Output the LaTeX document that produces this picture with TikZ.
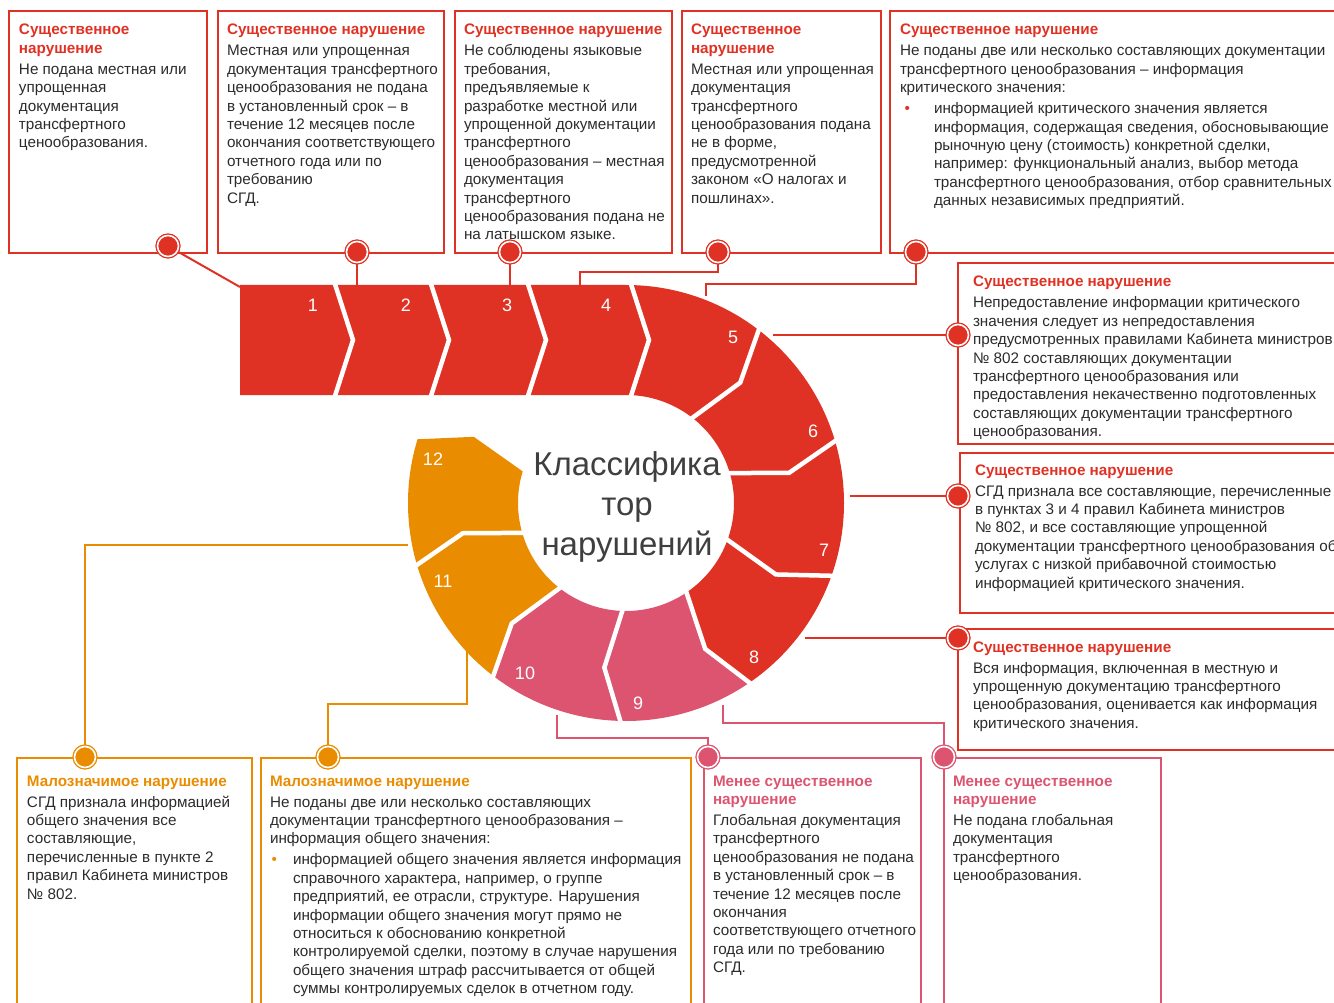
\documentclass[tikz,border=0pt]{standalone}
\usepackage{fontspec}
\setmainfont{Liberation Sans}
\usetikzlibrary{calc}
\definecolor{cred}{HTML}{E03224}
\definecolor{cpink}{HTML}{DC5470}
\definecolor{corange}{HTML}{EA8C00}
\definecolor{ctext}{HTML}{2B2B2B}
\definecolor{ccenter}{HTML}{3F3F3F}
\newcommand\ttl[2]{\leavevmode{\bfseries\color{#1}#2}\\[2.6pt]}
\newcommand\bul[1]{\par\vspace{2.6pt}\hangindent=#1\hangafter=0\noindent}
\tikzset{
  txt/.style={anchor=base west, inner sep=0, outer sep=0, text=ctext, font=\fontsize{15.25}{18.4}\selectfont},
  frame/.style={line width=2pt},
  conn/.style={line width=2pt},
  jdot/.style={circle, minimum size=21pt, inner sep=0, line width=1.2pt, double=white, double distance=1.6pt, draw=#1, fill=#1},
  num/.style={text=white, font=\fontsize{18}{18}\selectfont, inner sep=0},
  cut/.style={white, line width=4.5pt, line join=miter}
}
\begin{document}
\begin{tikzpicture}[x=1pt,y=-1pt]
\useasboundingbox (0,0) rectangle (1334,1003);
\clip (0,0) rectangle (1334,1003);
% boxes
\draw[frame,cred] (9,11) rectangle (207,253);
\draw[frame,cred] (218,11) rectangle (444,253);
\draw[frame,cred] (455,11) rectangle (672,253);
\draw[frame,cred] (682,11) rectangle (881,253);
\draw[frame,cred] (890,11) rectangle (1345,253);
\draw[frame,cred] (958,263) rectangle (1345,444);
\draw[frame,cred] (960,453) rectangle (1345,613);
\draw[frame,cred] (958,629) rectangle (1345,750);
\draw[frame,corange] (17,758) rectangle (252,1010);
\draw[frame,corange] (261,758) rectangle (691,1010);
\draw[frame,cpink] (704,758) rectangle (921,1010);
\draw[frame,cpink] (944,758) rectangle (1161,1010);
% dots
\node[jdot=cred] (c1) at (168,246) {};
\node[jdot=cred] (c2) at (357,252) {};
\node[jdot=cred] (c3) at (510,252) {};
\node[jdot=cred] (c4) at (718,252) {};
\node[jdot=cred] (c5) at (916,252) {};
\node[jdot=cred] (c6) at (958,335) {};
\node[jdot=cred] (c7) at (958,496) {};
\node[jdot=cred] (c8) at (958,638) {};
\node[jdot=corange] (c9) at (85,757) {};
\node[jdot=corange] (c10) at (328,757) {};
\node[jdot=cpink] (c11) at (708,757) {};
\node[jdot=cpink] (c12) at (944,757) {};
% connector ends
\coordinate (k1) at (240,287);
\coordinate (k2) at (357,287);
\coordinate (k3) at (510,287);
\coordinate (k4) at (580,287);
\coordinate (k5) at (706,296);
\coordinate (k6) at (773,335);
\coordinate (k7) at (850,496);
\coordinate (k8) at (805,638);
\coordinate (k9) at (408,545);
\coordinate (k10) at (467,650);
\coordinate (k11) at (557,715);
\coordinate (k12) at (723,705);
\draw[conn,cred] (c1) -- (k1);
\draw[conn,cred] (c2) -- (k2);
\draw[conn,cred] (c3) -- (k3);
\draw[conn,cred] (c4) |- ($(k4)+(0,-15)$) -- (k4);
\draw[conn,cred] (c5) |- ($(k5)+(0,-12)$) -- (k5);
\draw[conn,cred] (k6) -- (c6);
\draw[conn,cred] (k7) -- (c7);
\draw[conn,cred] (k8) -- (c8);
\draw[conn,corange] (k9) -| (c9);
\draw[conn,corange] (k10) |- ($(c10)+(0,-53)$) -- (c10);
\draw[conn,cpink] (k11) |- ($(c11)+(0,-19)$) -- (c11);
\draw[conn,cpink] (k12) |- ($(c12)+(0,-34)$) -- (c12);
% redraw dots above connectors
\foreach \n/\c in {c1/cred,c2/cred,c3/cred,c4/cred,c5/cred,c6/cred,c7/cred,c8/cred,c9/corange,c10/corange,c11/cpink,c12/cpink}
  \node[jdot=\c] at (\n) {};
% spiral
\coordinate (C) at (626,503);
\fill[cred] (240,285) -- (626,285) arc[start angle=90, end angle=-55, radius=218pt]
  -- ($(C)+(-61.5:166pt)$) -- ($(C)+(-55:108pt)$) arc[start angle=-55, end angle=90, radius=108pt]
  -- (240,395) -- cycle;
\fill[cpink] ($(C)+(-55:218pt)$) arc[start angle=-55, end angle=-127, radius=218pt]
  -- ($(C)+(-133.5:166pt)$) -- ($(C)+(-127:108pt)$) arc[start angle=-127, end angle=-55, radius=108pt]
  -- ($(C)+(-61.5:166pt)$) -- cycle;
\fill[corange] ($(C)+(-127:218pt)$) arc[start angle=-127, end angle=-197, radius=218pt]
  -- ($(C)+(-203.5:166pt)$) -- ($(C)+(-197:108pt)$) arc[start angle=-197, end angle=-127, radius=108pt]
  -- ($(C)+(-133.5:166pt)$) -- cycle;
\foreach \a in {53,17,-19,-55,-91,-127,-163}
  \draw[cut] ($(C)+(\a:224pt)$) -- ($(C)+(\a-6.5:166pt)$) -- ($(C)+(\a:102pt)$);
\foreach \t in {334,430,527,630}
  \draw[cut] (\t,281) -- (\t+19,340) -- (\t,399);
% numbers
\node[num] (n1) at (313,305) {1};
\node[num] (n2) at (406,305) {2};
\node[num] (n3) at (507,305) {3};
\node[num] (n4) at (606,305) {4};
\node[num] (n5) at (733,337) {5};
\node[num] (n6) at (813,431) {6};
\node[num] (n7) at (824,550) {7};
\node[num] (n8) at (754,657) {8};
\node[num] (n9) at (638,703) {9};
\node[num] (n10) at (525,673) {10};
\node[num] (n11) at (443,581) {11};
\node[num] (n12) at (433,459) {12};
\node[font=\fontsize{33}{40}\selectfont, text=ccenter, align=center, inner sep=0] (ctr) at (627,507) {Классифика\\тор\\нарушений};
% texts
\node[txt] (t1) at (19,35) {\begin{minipage}[t]{600pt}
\ttl{cred}{Существенное\\нарушение}Не подана местная или\\упрощенная\\документация\\трансфертного\\ценообразования.\end{minipage}};
\node[txt] (t2) at (227,35) {\begin{minipage}[t]{600pt}
\ttl{cred}{Существенное нарушение}Местная или упрощенная\\документация трансфертного\\ценообразования не подана\\в установленный срок – в\\течение 12 месяцев после\\окончания соответствующего\\отчетного года или по\\требованию\\СГД.\end{minipage}};
\node[txt] (t3) at (464,35) {\begin{minipage}[t]{600pt}
\ttl{cred}{Существенное нарушение}Не соблюдены языковые\\требования,\\предъявляемые к\\разработке местной или\\упрощенной документации\\трансфертного\\ценообразования – местная\\документация\\трансфертного\\ценообразования подана не\\на латышском языке.\end{minipage}};
\node[txt] (t4) at (691,35) {\begin{minipage}[t]{600pt}
\ttl{cred}{Существенное\\нарушение}Местная или упрощенная\\документация\\трансфертного\\ценообразования подана\\не в форме,\\предусмотренной\\законом «О налогах и\\пошлинах».\end{minipage}};
\node[txt] (t5) at (900,35) {\begin{minipage}[t]{700pt}
\ttl{cred}{Существенное нарушение}Не поданы две или несколько составляющих документации\\трансфертного ценообразования – информация\\критического значения:
\bul{34pt}\llap{\textcolor{cred}{\textbullet}\hspace{24pt}}информацией критического значения является\\информация, содержащая сведения, обосновывающие\\рыночную цену (стоимость) конкретной сделки,\\например: функциональный анализ, выбор метода\\трансфертного ценообразования, отбор сравнительных\\данных независимых предприятий.\end{minipage}};
\node[txt] (t6) at (973,287) {\begin{minipage}[t]{600pt}
\ttl{cred}{Существенное нарушение}Непредоставление информации критического\\значения следует из непредоставления\\предусмотренных правилами Кабинета министров\\№ 802 составляющих документации\\трансфертного ценообразования или\\предоставления некачественно подготовленных\\составляющих документации трансфертного\\ценообразования.\end{minipage}};
\node[txt] (t7) at (975,475) {\begin{minipage}[t]{600pt}
\ttl{cred}{Существенное нарушение}СГД признала все составляющие, перечисленные\\в пунктах 3 и 4 правил Кабинета министров\\№ 802, и все составляющие упрощенной\\документации трансфертного ценообразования об\\услугах с низкой прибавочной стоимостью\\информацией критического значения.\end{minipage}};
\node[txt] (t8) at (973,652) {\begin{minipage}[t]{600pt}
\ttl{cred}{Существенное нарушение}Вся информация, включенная в местную и\\упрощенную документацию трансфертного\\ценообразования, оценивается как информация\\критического значения.\end{minipage}};
\node[txt] (t9) at (27,786) {\begin{minipage}[t]{600pt}
\ttl{corange}{Малозначимое нарушение}СГД признала информацией\\общего значения все\\составляющие,\\перечисленные в пункте 2\\правил Кабинета министров\\№ 802.\end{minipage}};
\node[txt] (t10) at (270,786) {\begin{minipage}[t]{600pt}
\ttl{corange}{Малозначимое нарушение}Не поданы две или несколько составляющих\\документации трансфертного ценообразования –\\информация общего значения:
\bul{23pt}\llap{\textcolor{corange}{\textbullet}\hspace{16pt}}информацией общего значения является информация\\справочного характера, например, о группе\\предприятий, ее отрасли, структуре. Нарушения\\информации общего значения могут прямо не\\относиться к обоснованию конкретной\\контролируемой сделки, поэтому в случае нарушения\\общего значения штраф рассчитывается от общей\\суммы контролируемых сделок в отчетном году.\end{minipage}};
\node[txt] (t11) at (713,786) {\begin{minipage}[t]{600pt}
\ttl{cpink}{Менее существенное\\нарушение}Глобальная документация\\трансфертного\\ценообразования не подана\\в установленный срок – в\\течение 12 месяцев после\\окончания\\соответствующего отчетного\\года или по требованию\\СГД.\end{minipage}};
\node[txt] (t12) at (953,786) {\begin{minipage}[t]{600pt}
\ttl{cpink}{Менее существенное\\нарушение}Не подана глобальная\\документация\\трансфертного\\ценообразования.\end{minipage}};
\end{tikzpicture}
\end{document}
